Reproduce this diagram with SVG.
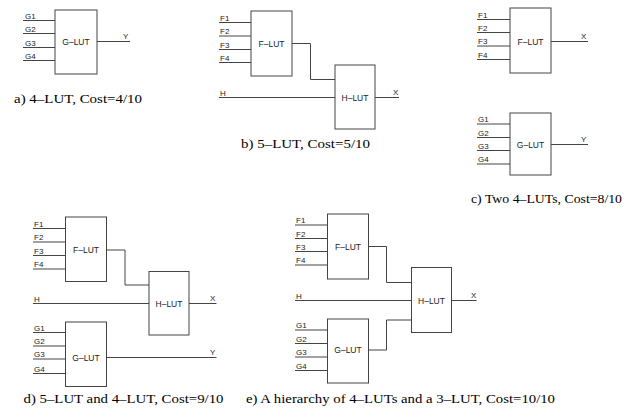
<svg xmlns="http://www.w3.org/2000/svg" width="624" height="418" viewBox="0 0 624 418">
<style>
.w{fill:none;stroke:#444;stroke-width:1}
.b{fill:#fff;stroke:#444;stroke-width:1}
.l{font-family:"Liberation Sans",Arial,sans-serif;font-size:8px;fill:#222}
.m{font-family:"Liberation Sans",Arial,sans-serif;font-size:8.5px;fill:#222;text-anchor:middle}
.c{font-family:"Liberation Serif","Times New Roman",serif;font-size:13.5px;fill:#000}
</style>
<rect width="624" height="418" fill="#fff"/>
<g id="connectors">
<path class="w" d="M23 20.5H55M23 33.5H55M23 47.5H55M23 60.5H55M97 41.5H130"/>
<path class="w" d="M219 22.5H251M219 36H251M219 49.5H251M219 62.5H251"/>
<path class="w" d="M292 43.5H310.5V79.5H335M219 97.5H335M375 97.5H399"/>
<path class="w" d="M477 19.5H510M477 32.5H510M477 46H510M477 59.5H510M551 41.5H588"/>
<path class="w" d="M477 124H510M477 137.5H510M477 150.5H510M477 164H510M551 144.5H588"/>
<path class="w" d="M33 228.5H65.5M33 242H65.5M33 255.5H65.5M33 269H65.5"/>
<path class="w" d="M106.5 250H125V285H149M33 303.5H149M189 303.5H216.5"/>
<path class="w" d="M33 332.5H65.5M33 346H65.5M33 359H65.5M33 373.5H65.5M106.5 357.5H216.5"/>
<path class="w" d="M295 225H327.5M295 238.5H327.5M295 251.5H327.5M295 265H327.5"/>
<path class="w" d="M368.5 246.5H386.5V282.5H411.5M295 300.5H411.5M451.5 300.5H476.5"/>
<path class="w" d="M295 330H327.5M295 343.5H327.5M295 357H327.5M295 370.5H327.5M368.5 350H386.5V320H411.5"/>
</g>
<g id="a-glut"><rect class="b" x="55" y="10" width="42" height="64"/><text class="m" x="76" y="44.5">G–LUT</text></g>
<g id="a-labels">
<text class="l" x="25" y="18.5">G1</text><text class="l" x="25" y="31.5">G2</text><text class="l" x="25" y="45.5">G3</text><text class="l" x="25" y="58.5">G4</text>
<text class="l" x="123" y="38.5">Y</text>
<text class="c" x="14" y="103" textLength="128" lengthAdjust="spacingAndGlyphs">a) 4–LUT, Cost=4/10</text>
</g>
<g id="b-flut"><rect class="b" x="251" y="11" width="41" height="65"/><text class="m" x="271.5" y="46.5">F–LUT</text></g>
<g id="b-hlut"><rect class="b" x="335" y="65" width="40" height="64"/><text class="m" x="355" y="100.5">H–LUT</text></g>
<g id="b-labels">
<text class="l" x="220" y="20.5">F1</text><text class="l" x="220" y="34">F2</text><text class="l" x="220" y="47.5">F3</text><text class="l" x="220" y="60.5">F4</text>
<text class="l" x="220" y="95.5">H</text><text class="l" x="393" y="95">X</text>
<text class="c" x="241" y="148" textLength="129" lengthAdjust="spacingAndGlyphs">b) 5–LUT, Cost=5/10</text>
</g>
<g id="c-flut"><rect class="b" x="510" y="8" width="41" height="65"/><text class="m" x="530.5" y="44.5">F–LUT</text></g>
<g id="c-glut"><rect class="b" x="510" y="113" width="41" height="62"/><text class="m" x="530.5" y="147.5">G–LUT</text></g>
<g id="c-labels">
<text class="l" x="478" y="17.5">F1</text><text class="l" x="478" y="30.5">F2</text><text class="l" x="478" y="44">F3</text><text class="l" x="478" y="57.5">F4</text>
<text class="l" x="581" y="39">X</text>
<text class="l" x="478" y="122">G1</text><text class="l" x="478" y="135.5">G2</text><text class="l" x="478" y="148.5">G3</text><text class="l" x="478" y="162">G4</text>
<text class="l" x="581" y="142">Y</text>
<text class="c" x="471" y="203" textLength="151" lengthAdjust="spacingAndGlyphs">c) Two 4–LUTs, Cost=8/10</text>
</g>
<g id="d-flut"><rect class="b" x="65.5" y="217" width="41" height="64.5"/><text class="m" x="86" y="253">F–LUT</text></g>
<g id="d-hlut"><rect class="b" x="149" y="271.5" width="40" height="63.5"/><text class="m" x="169" y="306.5">H–LUT</text></g>
<g id="d-glut"><rect class="b" x="65.5" y="322" width="41" height="64.5"/><text class="m" x="86" y="360.5">G–LUT</text></g>
<g id="d-labels">
<text class="l" x="34" y="226.5">F1</text><text class="l" x="34" y="240">F2</text><text class="l" x="34" y="253.5">F3</text><text class="l" x="34" y="267">F4</text>
<text class="l" x="34" y="301.5">H</text><text class="l" x="210" y="300.5">X</text>
<text class="l" x="34" y="330.5">G1</text><text class="l" x="34" y="344">G2</text><text class="l" x="34" y="357">G3</text><text class="l" x="34" y="371.5">G4</text>
<text class="l" x="210" y="355">Y</text>
<text class="c" x="23.5" y="403" textLength="200" lengthAdjust="spacingAndGlyphs">d) 5–LUT and 4–LUT, Cost=9/10</text>
</g>
<g id="e-flut"><rect class="b" x="327.5" y="214" width="41" height="65"/><text class="m" x="348" y="249.5">F–LUT</text></g>
<g id="e-hlut"><rect class="b" x="411.5" y="267.5" width="40" height="65"/><text class="m" x="431.5" y="303.5">H–LUT</text></g>
<g id="e-glut"><rect class="b" x="327.5" y="319" width="41" height="64"/><text class="m" x="348" y="353">G–LUT</text></g>
<g id="e-labels">
<text class="l" x="296" y="223">F1</text><text class="l" x="296" y="236.5">F2</text><text class="l" x="296" y="249.5">F3</text><text class="l" x="296" y="263">F4</text>
<text class="l" x="296" y="298.5">H</text><text class="l" x="471" y="297.5">X</text>
<text class="l" x="296" y="328">G1</text><text class="l" x="296" y="341.5">G2</text><text class="l" x="296" y="355">G3</text><text class="l" x="296" y="368.5">G4</text>
<text class="c" x="246" y="403" textLength="309" lengthAdjust="spacingAndGlyphs">e) A hierarchy of 4–LUTs and a 3–LUT, Cost=10/10</text>
</g>
</svg>
